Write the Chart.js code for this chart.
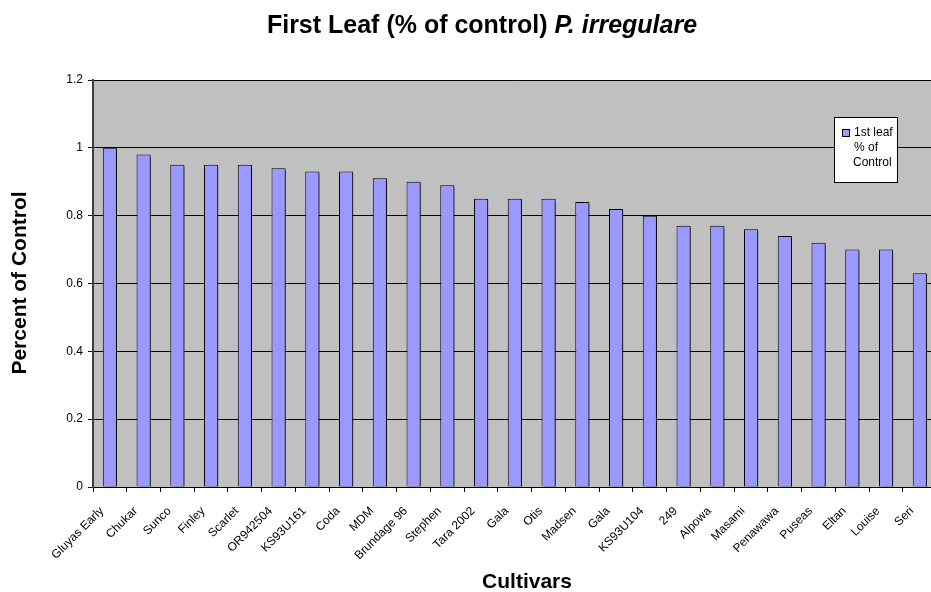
<!DOCTYPE html>
<html>
<head>
<meta charset="utf-8">
<script src="https://cdn.jsdelivr.net/npm/chart.js@4.4.1/dist/chart.umd.min.js"></script>
<style>
  html, body { margin: 0; padding: 0; background: #ffffff; overflow: hidden; }
  #wrap { position: relative; width: 942px; height: 592px; }
</style>
</head>
<body>
<div id="wrap"><canvas id="chart"></canvas></div>
<script>
// Cultivars and first-leaf emergence as a fraction of the untreated control
const cultivars = [
  'Gluyas Early', 'Chukar', 'Sunco', 'Finley', 'Scarlet', 'OR942504', 'KS93U161',
  'Coda', 'MDM', 'Brundage 96', 'Stephen', 'Tara 2002', 'Gala', 'Otis', 'Madsen',
  'Gala', 'KS93U104', '249', 'Alpowa', 'Masami', 'Penawawa', 'Puseas', 'Eltan',
  'Louise', 'Seri'
];
const firstLeafPct = [
  1.00, 0.98, 0.95, 0.95, 0.95, 0.94, 0.93,
  0.93, 0.91, 0.90, 0.89, 0.85, 0.85, 0.85, 0.84,
  0.82, 0.80, 0.77, 0.77, 0.76, 0.74, 0.72, 0.70,
  0.70, 0.63
];
const yTicks = [0, 0.2, 0.4, 0.6, 0.8, 1, 1.2];
const seriesName = ['1st leaf', '% of', 'Control'];
const titleMain = 'First Leaf (% of control) ';
const titleItalic = 'P. irregulare';
const xTitle = 'Cultivars';
const yTitle = 'Percent of Control';

const FONT = '"Liberation Sans", Arial, sans-serif';
const BAR_FILL = '#9999FF';

// grey plot background
const plotBackground = {
  id: 'plotBackground',
  beforeDraw(chart) {
    const { ctx, chartArea: a } = chart;
    ctx.save();
    ctx.fillStyle = '#C0C0C0';
    ctx.fillRect(a.left, a.top, a.right - a.left, a.bottom - a.top);
    ctx.restore();
  }
};

// drop shadow under the bars
const barShadow = {
  id: 'barShadow',
  beforeDatasetDraw(chart) {
    const ctx = chart.ctx;
    ctx.save();
    ctx.shadowColor = 'rgba(0,0,0,0.55)';
    ctx.shadowOffsetX = 2;
    ctx.shadowOffsetY = 2;
    ctx.shadowBlur = 0;
  },
  afterDatasetDraw(chart) {
    chart.ctx.restore();
  }
};

// titles and the boxed legend
const annotations = {
  id: 'annotations',
  afterDraw(chart) {
    const { ctx } = chart;
    ctx.save();
    ctx.fillStyle = '#000';
    ctx.textBaseline = 'alphabetic';

    // chart title: bold part followed by bold italic species name
    const f1 = 'bold 25px ' + FONT;
    const f2 = 'italic bold 25px ' + FONT;
    ctx.font = f1;
    const w1 = ctx.measureText(titleMain).width;
    ctx.font = f2;
    const w2 = ctx.measureText(titleItalic).width;
    const tx = 482 - (w1 + w2) / 2;
    ctx.textAlign = 'left';
    ctx.font = f1;
    ctx.fillText(titleMain, tx, 33);
    ctx.font = f2;
    ctx.fillText(titleItalic, tx + w1, 33);

    // axis titles
    ctx.font = 'bold 21px ' + FONT;
    ctx.textAlign = 'center';
    ctx.fillText(xTitle, 527, 588);
    ctx.save();
    ctx.translate(26, 283);
    ctx.rotate(-Math.PI / 2);
    ctx.fillText(yTitle, 0, 0);
    ctx.restore();

    // legend box
    const lx = 834.5, ly = 117.5, lw = 63, lh = 65;
    ctx.fillStyle = '#fff';
    ctx.fillRect(lx, ly, lw, lh);
    ctx.strokeStyle = '#000';
    ctx.lineWidth = 1;
    ctx.strokeRect(lx, ly, lw, lh);
    ctx.fillStyle = BAR_FILL;
    ctx.fillRect(842.5, 129.5, 7, 7);
    ctx.strokeRect(842.5, 129.5, 7, 7);
    ctx.fillStyle = '#000';
    ctx.font = '12px ' + FONT;
    ctx.textAlign = 'left';
    ctx.textBaseline = 'middle';
    ctx.fillText(seriesName[0], 854, 133);
    ctx.fillText(seriesName[1], 854, 148);
    ctx.fillText(seriesName[2], 853, 163);
    ctx.restore();
  }
};

new Chart(document.getElementById('chart'), {
  type: 'bar',
  data: {
    labels: cultivars,
    datasets: [{
      label: seriesName.join(' '),
      data: firstLeafPct,
      backgroundColor: BAR_FILL,
      borderColor: '#000',
      borderWidth: 1,
      borderSkipped: 'bottom',
      barPercentage: 0.42,
      categoryPercentage: 1.0
    }]
  },
  options: {
    responsive: true,
    maintainAspectRatio: false,
    animation: false,
    layout: { padding: { top: 80, right: 0, bottom: 0, left: 0 } },
    plugins: {
      legend: { display: false },
      title: { display: false },
      tooltip: { enabled: false }
    },
    scales: {
      x: {
        offset: true,
        grid: {
          offset: true,
          display: true,
          drawOnChartArea: false,
          drawTicks: true,
          tickLength: 5,
          color: '#000'
        },
        border: { display: true, color: '#000', width: 1 },
        ticks: {
          autoSkip: false,
          maxRotation: 45,
          minRotation: 45,
          color: '#000',
          padding: 12,
          labelOffset: -8,
          font: { family: FONT, size: 12 }
        },
        afterFit(scale) { scale.height = 105; }
      },
      y: {
        min: 0,
        max: 1.2,
        afterBuildTicks(scale) {
          scale.ticks = yTicks.map(v => ({ value: v }));
        },
        grid: {
          color: '#000',
          lineWidth: 1,
          drawTicks: true,
          tickLength: 5,
          tickColor: '#000'
        },
        border: { display: true, color: '#404040', width: 2 },
        ticks: {
          color: '#000',
          padding: 5,
          font: { family: FONT, size: 12 },
          callback: v => String(v)
        },
        afterFit(scale) { scale.width = 93; }
      }
    }
  },
  plugins: [plotBackground, barShadow, annotations]
});
</script>
</body>
</html>
